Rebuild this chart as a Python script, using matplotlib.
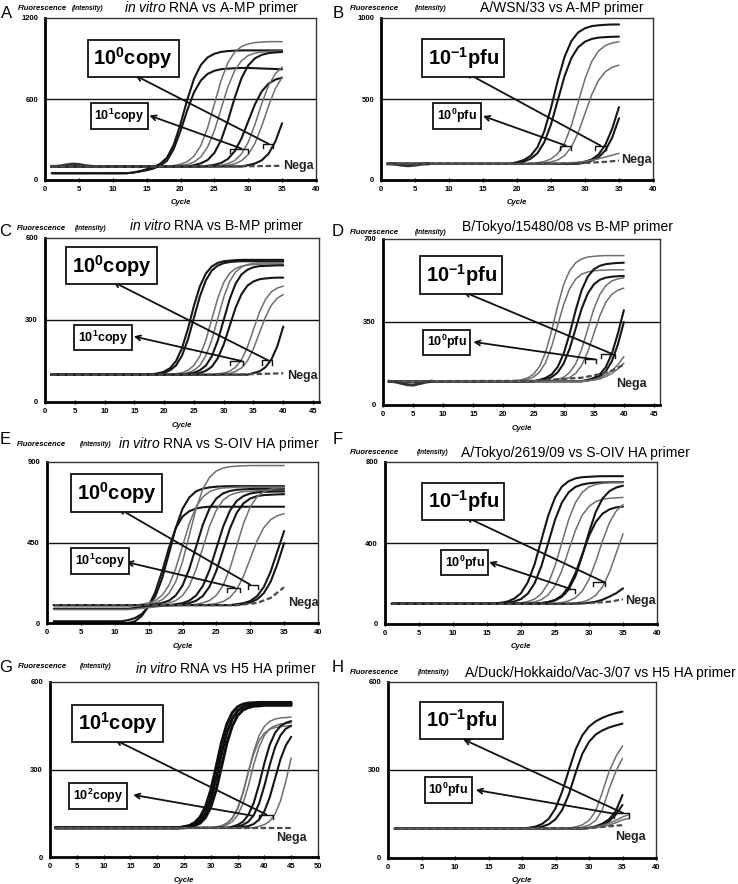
import matplotlib.pyplot as plt

plt.rcParams['font.family'] = ['Liberation Sans', 'DejaVu Sans']
plt.rcParams['mathtext.fontset'] = 'custom'
plt.rcParams['mathtext.rm'] = 'Liberation Sans'
plt.rcParams['mathtext.it'] = 'Liberation Sans:italic'
plt.rcParams['mathtext.bf'] = 'Liberation Sans:bold'

W, H = 738, 884

# ---- data: each curve is (first cycle listed, fluorescence values at consecutive cycles)
# the value before the first listed cycle is the baseline, drawn from cycle 1

a_curves = [
    (12, [50, 55, 65, 80, 95, 120, 165, 260, 415, 595, 750, 852, 908, 935, 949, 955, 958, 960, 960, 960, 960, 960, 960, 960]),
    (12, [50, 55, 63, 72, 85, 105, 143, 230, 363, 517, 650, 737, 786, 809, 821, 825, 828, 830, 830, 828, 826, 824, 822, 820]),
    (18, [100, 107, 117, 136, 177, 255, 387, 563, 738, 870, 948, 989, 1008, 1018, 1022, 1025, 1025, 1025]),
    (19, [100, 107, 115, 133, 171, 244, 365, 528, 690, 811, 884, 922, 940, 948, 952, 954, 955]),
    (21, [100, 110, 123, 148, 201, 296, 441, 609, 754, 849, 902, 927, 940, 945, 948]),
    (23, [100, 105, 112, 126, 156, 213, 308, 435, 562, 657, 714, 744, 758]),
    (25, [100, 109, 121, 144, 193, 280, 413, 567, 700, 787, 836]),
    (26, [100, 109, 120, 143, 189, 273, 401, 549, 677, 761]),
    (29, [100, 110, 122, 146, 195, 285, 421]),
]
a_tones = ['k', 'k', 'g', 'g', 'k', 'k', 'g', 'g', 'k']
a_nega_x = [1, 20, 30, 35]
a_nega_y = [100, 100, 102, 105]
a_wobble_x = [1, 2, 3, 4, 5, 6, 7, 8]
a_wobble_y = [100, 102, 110, 118, 115, 106, 100, 100]

b_curves = [
    (19, [100, 110, 123, 149, 202, 299, 445, 615, 761, 858, 911, 937, 950, 955, 958, 960, 960]),
    (19, [100, 106, 114, 131, 165, 232, 343, 493, 642, 753, 820, 854, 871, 879, 882, 884, 885]),
    (22, [100, 106, 114, 130, 163, 228, 336, 480, 624, 732, 797, 830, 846, 854]),
    (23, [100, 105, 111, 124, 151, 204, 292, 410, 528, 616, 669, 696, 709]),
    (28, [100, 106, 113, 127, 158, 218, 317, 450]),
    (29, [100, 108, 119, 140, 183, 262, 381]),
    (25, [100, 102, 104, 107, 110, 115, 122, 131, 142, 153, 165]),
]
b_tones = ['k', 'k', 'g', 'g', 'k', 'k', 'g']
b_nega_x = [1, 25, 30, 33, 35]
b_nega_y = [100, 100, 105, 112, 120]
b_wobble_x = [1, 2, 3, 4, 5, 6, 7]
b_wobble_y = [100, 98, 92, 88, 92, 98, 100]

c_curves = [
    (17, [100, 102, 105, 111, 124, 150, 197, 268, 352, 423, 470, 496, 509, 515, 517, 519, 520, 520, 520, 520, 520, 520, 520, 520]),
    (18, [100, 103, 107, 116, 134, 170, 229, 308, 386, 445, 481, 499, 508, 512, 514, 515, 515, 515, 515, 515, 515, 515, 515]),
    (21, [100, 103, 107, 116, 134, 168, 226, 303, 379, 437, 471, 489, 497, 501, 503, 504, 505, 505, 505, 505]),
    (22, [100, 103, 107, 116, 134, 169, 227, 305, 383, 441, 476, 494, 503, 507, 509, 510, 510, 510, 510]),
    (23, [100, 103, 107, 116, 133, 167, 224, 300, 376, 433, 467, 484, 493, 497, 498, 499, 500, 500]),
    (24, [100, 103, 106, 114, 129, 160, 210, 278, 345, 395, 426, 441, 449, 452, 454, 455, 455]),
    (28, [100, 103, 106, 113, 127, 155, 202, 265, 328, 375, 403, 417, 424]),
    (29, [100, 102, 105, 112, 125, 151, 195, 253, 310, 354, 380, 393]),
    (34, [100, 106, 112, 127, 155, 204, 276]),
]
c_tones = ['k', 'k', 'g', 'g', 'k', 'k', 'g', 'g', 'k']
c_nega_x = [1, 30, 35, 40]
c_nega_y = [100, 100, 102, 105]

d_curves = [
    (21, [100, 103, 106, 114, 130, 163, 222, 313, 417, 508, 567, 600, 616, 624, 627, 629, 630, 630, 630, 630]),
    (22, [100, 104, 108, 118, 139, 179, 246, 335, 424, 491, 531, 552, 561, 566, 568, 569, 570, 570, 570]),
    (25, [100, 106, 114, 129, 160, 216, 301, 400, 485, 541, 572, 587, 594, 597, 599, 600]),
    (25, [100, 104, 108, 117, 137, 175, 238, 323, 407, 470, 508, 528, 537, 541, 543, 544]),
    (27, [100, 104, 108, 117, 137, 174, 236, 320, 404, 466, 503, 523, 532, 536]),
    (28, [100, 103, 107, 116, 133, 167, 224, 300, 376, 433, 467, 484, 493]),
    (33, [100, 106, 114, 129, 160, 216, 301, 400]),
    (33, [100, 104, 109, 120, 142, 184, 255, 350]),
    (33, [100, 103, 107, 115, 127, 145, 170, 204]),
    (33, [100, 102, 105, 110, 120, 133, 152, 176]),
]
d_tones = ['g', 'g', 'k', 'k', 'g', 'g', 'k', 'k', 'g', 'g']
d_nega_x = [1, 25, 33, 36, 38, 40]
d_nega_y = [100, 102, 115, 130, 145, 170]
d_wobble_x = [1, 2, 3, 4, 5, 6, 7, 8]
d_wobble_y = [100, 98, 92, 86, 84, 90, 96, 100]

e_curves = [
    (11, [10, 16, 28, 50, 92, 150, 250, 388, 531, 638, 702, 736, 751, 758, 762, 764, 765, 765, 765, 765, 765, 765, 765, 765, 765]),
    (12, [0, 10, 40, 95, 175, 290, 420, 530, 595, 625, 640, 647, 650, 650, 650, 650, 650, 650, 650, 650, 650, 650, 650, 650]),
    (14, [100, 106, 114, 130, 165, 231, 342, 490, 638, 749, 815, 850, 866, 874, 877, 879, 880, 880, 880, 880, 880, 880]),
    (13, [100, 105, 112, 126, 155, 211, 305, 430, 555, 649, 705, 734, 748, 755, 757, 759, 760, 760, 760, 760, 760, 760, 760]),
    (15, [100, 105, 112, 125, 154, 209, 302, 425, 549, 641, 696, 725, 738, 745, 747, 749, 750, 750, 750, 750, 750]),
    (16, [100, 105, 112, 125, 153, 208, 298, 420, 542, 632, 687, 715, 728, 735, 737, 739, 740, 740, 740, 740]),
    (12, [80, 84, 88, 92, 95, 98, 100, 105, 111, 125, 153, 207, 297, 418, 538, 628, 682, 710, 724, 730, 733, 734, 735, 735]),
    (19, [100, 105, 111, 124, 151, 204, 292, 410, 528, 616, 669, 696, 709, 715, 717, 719, 720]),
    (12, [75, 78, 82, 86, 90, 94, 97, 99, 100, 100, 105, 112, 126, 155, 211, 305, 430, 555, 649, 705, 734, 748, 755, 757]),
    (23, [100, 104, 109, 120, 143, 187, 261, 360, 459, 533, 577, 600, 611]),
    (27, [100, 105, 111, 123, 150, 201, 286, 400, 514]),
    (28, [100, 107, 115, 132, 167, 230, 329, 447]),
]
e_tones = ['k', 'k', 'g', 'g', 'k', 'g', 'k', 'k', 'g', 'g', 'k', 'k']
e_nega_x = [1, 28, 31, 33, 35]
e_nega_y = [100, 100, 112, 140, 200]

f_curves = [
    (16, [100, 105, 111, 125, 152, 206, 295, 415, 535, 624, 678, 705, 719, 725, 727, 729, 730, 730, 730, 730]),
    (17, [100, 105, 111, 123, 150, 201, 286, 400, 514, 599, 650, 677, 689, 695, 698, 699, 700, 700, 700]),
    (19, [100, 105, 111, 123, 150, 201, 286, 400, 514, 599, 650, 677, 689, 695, 698, 699, 700]),
    (20, [100, 104, 109, 120, 144, 188, 263, 363, 462, 537, 581, 605, 616, 621, 623, 625]),
    (22, [100, 104, 109, 119, 140, 181, 250, 343, 435, 504, 545, 566, 576, 580]),
    (23, [100, 107, 116, 134, 170, 236, 337, 453, 554, 620, 656, 674, 683]),
    (25, [100, 106, 114, 130, 162, 220, 309, 411, 500, 558, 590]),
    (27, [100, 104, 109, 120, 142, 184, 255, 350, 445]),
    (28, [100, 102, 105, 110, 120, 135, 152, 176]),
]
f_tones = ['k', 'k', 'g', 'g', 'k', 'k', 'g', 'g', 'k']
f_nega_x = [1, 26, 30, 33, 35]
f_nega_y = [100, 100, 103, 110, 122]

g_curves = [
    (24, [100, 103, 105, 111, 124, 151, 198, 270, 355, 427, 474, 501, 514, 520, 522, 524, 525, 525, 525, 525, 525, 525]),
    (25, [100, 103, 108, 116, 135, 171, 230, 310, 390, 449, 485, 504, 512, 517, 518, 520, 520, 520, 520, 520, 520]),
    (24, [100, 104, 108, 118, 137, 172, 230, 310, 393, 456, 495, 515, 524, 528, 529, 530, 530, 530, 530, 530, 530, 530]),
    (30, [100, 103, 107, 115, 132, 164, 218, 290, 362, 416, 448, 465, 473, 477, 478, 480]),
    (31, [100, 104, 110, 121, 143, 183, 244, 316, 377, 417, 440, 450, 456, 458, 460]),
    (31, [100, 107, 116, 134, 167, 221, 292, 353, 399, 425, 438, 444, 447, 449, 450]),
    (33, [100, 104, 110, 121, 144, 185, 248, 322, 385, 426, 449, 460, 466]),
    (34, [100, 104, 110, 121, 143, 183, 244, 316, 377, 417, 440, 450]),
    (35, [100, 103, 106, 113, 128, 157, 205, 270, 335, 383, 412]),
    (38, [100, 105, 111, 123, 148, 192, 260, 340]),
]
g_tones = ['K', 'K', 'K', 'g', 'g', 'g', 'k', 'k', 'k', 'g']
g_nega_x = [1, 40, 45]
g_nega_y = [100, 100, 100]

h_curves = [
    (20, [100, 103, 107, 116, 134, 169, 227, 300, 370, 418, 448, 466, 478, 487, 494, 499]),
    (21, [100, 103, 107, 115, 132, 164, 217, 290, 355, 396, 421, 435, 445, 452, 458]),
    (26, [100, 102, 106, 113, 128, 160, 225, 295, 345, 382]),
    (27, [100, 102, 105, 112, 128, 165, 235, 295, 340]),
    (29, [100, 103, 108, 117, 132, 160, 215]),
    (29, [100, 102, 106, 113, 125, 148, 181]),
    (28, [100, 101, 103, 106, 111, 118, 128, 140, 148]),
    (28, [100, 100, 102, 104, 107, 112, 120, 130, 135]),
]
h_tones = ['k', 'k', 'g', 'g', 'k', 'k', 'g', 'g']
h_nega_x = [1, 30, 35]
h_nega_y = [100, 102, 112]

copy0 = r'10$^{\mathbf{0}}$copy'
copy1 = r'10$^{\mathbf{1}}$copy'
copy2 = r'10$^{\mathbf{2}}$copy'
pfu_m1 = r'10$^{\mathbf{-1}}$pfu'
pfu0 = r'10$^{\mathbf{0}}$pfu'

# ---- layout (pixel boxes, annotation anchors in data units)
layouts = {
    'A': dict(box=(45, 18, 316, 180), xmax=40, xtop=40, ymax=1200,
              title=r'$\mathit{in\ vitro}$ RNA vs A-MP primer', title_xy=(212, 8),
              letter_xy=(7, 14), ylab_xy=(18, 72, 9),
              big=(copy0, 13.0, 900, 13.3, 775, 33.0, 268),
              small=(copy1, 11.0, 474, 15.4, 478, 29.0, 233),
              brackets=[(27.3, 30.0, 232), (32.2, 33.7, 268)], nega_xy=(35.2, 105)),
    'B': dict(box=(381, 18, 653, 180), xmax=40, xtop=40, ymax=1000,
              title='A/WSN/33 vs A-MP primer', title_xy=(562, 8),
              letter_xy=(338, 14), ylab_xy=(350, 415, 9),
              big=(pfu_m1, 12.1, 753, 12.4, 665, 32.3, 212),
              small=(pfu0, 11.2, 395, 15.0, 395, 27.2, 212),
              brackets=[(26.3, 27.9, 212), (31.5, 33.1, 212)], nega_xy=(35.3, 123)),
    'C': dict(box=(45, 238, 319, 402), xmax=46, xtop=45, ymax=600,
              title=r'$\mathit{in\ vitro}$ RNA vs B-MP primer', title_xy=(217, 226),
              letter_xy=(5, 232), ylab_xy=(17, 75, 229),
              big=(copy0, 11.2, 498, 11.4, 440, 37.5, 152),
              small=(copy1, 9.8, 236, 14.9, 240, 33.0, 150),
              brackets=[(31.1, 33.2, 150), (36.4, 38.1, 152)], nega_xy=(40.6, 95)),
    'D': dict(box=(383, 239, 660, 405), xmax=46, xtop=45, ymax=700,
              title='B/Tokyo/15480/08 vs B-MP primer', title_xy=(568, 227),
              letter_xy=(338, 232), ylab_xy=(350, 415, 232),
              big=(pfu_m1, 13.0, 548, 13.3, 478, 37.9, 217),
              small=(pfu0, 10.6, 264, 15.0, 266, 35.2, 192),
              brackets=[(36.2, 38.5, 217), (33.5, 35.3, 195)], nega_xy=(38.7, 88)),
    'E': dict(box=(47, 462, 318, 623), xmax=40, xtop=40, ymax=900,
              title=r'$\mathit{in\ vitro}$ RNA vs S-OIV HA primer', title_xy=(219, 444),
              letter_xy=(5, 440), ylab_xy=(17, 80, 444),
              big=(copy0, 10.3, 727, 10.5, 642, 30.0, 214),
              small=(copy1, 7.8, 347, 11.7, 341, 27.7, 198),
              brackets=[(26.5, 28.5, 198), (29.7, 31.2, 214)], nega_xy=(35.6, 112)),
    'F': dict(box=(385, 462, 657, 624), xmax=40, xtop=40, ymax=800,
              title='A/Tokyo/2619/09 vs S-OIV HA primer', title_xy=(575, 453),
              letter_xy=(338, 440), ylab_xy=(350, 417, 453),
              big=(pfu_m1, 11.5, 605, 11.8, 530, 32.4, 204),
              small=(pfu0, 11.7, 304, 15.3, 306, 27.2, 174),
              brackets=[(26.4, 28.0, 174), (30.6, 32.4, 206)], nega_xy=(35.3, 113)),
    'G': dict(box=(50, 682, 318, 857), xmax=50, xtop=50, ymax=600,
              title=r'$\mathit{in\ vitro}$ RNA vs H5 HA primer', title_xy=(226, 669),
              letter_xy=(6, 667), ylab_xy=(18, 80, 666),
              big=(copy1, 12.6, 459, 12.1, 402, 40.4, 145),
              small=(copy2, 8.9, 209, 15.5, 213, 37.9, 141),
              brackets=[(38.9, 41.6, 145)], nega_xy=(42.2, 65)),
    'H': dict(box=(388, 682, 656, 858), xmax=40, xtop=40, ymax=600,
              title='A/Duck/Hokkaido/Vac-3/07 vs H5 HA primer', title_xy=(600, 673),
              letter_xy=(338, 667), ylab_xy=(350, 418, 672),
              big=(pfu_m1, 11.0, 470, 11.2, 405, 35.1, 153),
              small=(pfu0, 9.0, 233, 13.1, 232, 34.0, 150),
              brackets=[(33.8, 36.0, 153)], nega_xy=(33.9, 72)),
}

TONE = {'k': ('#161616', 1.5), 'K': ('#0d0d0d', 2.1), 'g': ('#6f6f6f', 1.1)}


def fx(px):
    return px / W


def fy(py):
    return 1 - py / H


def draw_panel(fig, key, curves, tones, nega_x, nega_y, wobble=None):
    lay = layouts[key]
    x0, y0, x1, y1 = lay['box']
    ax = fig.add_axes([fx(x0), fy(y1), (x1 - x0) / W, (y1 - y0) / H])
    ymax = lay['ymax']

    ax.axhline(ymax / 2, color='#111111', lw=1.0, zorder=1)
    for (start, vals), tone in zip(curves, tones):
        col, lw = TONE[tone]
        xs = [1] + list(range(start, start + len(vals)))
        ys = [vals[0]] + vals
        ax.plot(xs, ys, color=col, lw=lw, zorder=2, solid_capstyle='round')
    if wobble is not None:
        ax.plot(wobble[0], wobble[1], color='#333333', lw=2.2, zorder=2)
    ax.plot(nega_x, nega_y, color='#4a4a4a', lw=1.6, ls=(0, (2.5, 1.2)), zorder=3)

    # brackets and arrows
    t = ymax * 0.025
    for bx0, bx1, by in lay['brackets']:
        ax.plot([bx0, bx0, bx1, bx1], [by - t, by, by, by - t], color='#111111', lw=1.0, zorder=4)
    for text, cx, cy, tx, ty, sx, sy, size, pad in [lay['big'] + (14.5, 0.28), lay['small'] + (9, 0.3)]:
        ax.annotate('', xy=(tx, ty), xytext=(sx, sy),
                    arrowprops=dict(arrowstyle='->', lw=1.3, color='#111111',
                                    shrinkA=0, shrinkB=0, mutation_scale=9), zorder=4)
        ax.text(cx, cy, text, fontsize=size, fontweight='bold', ha='center', va='center',
                zorder=6, bbox=dict(boxstyle=f'square,pad={pad}', fc='white', ec='#111111', lw=1.3))
    nx, ny = lay['nega_xy']
    ax.text(nx, ny, 'Nega', fontsize=9, fontweight='bold', color='#222222', ha='left', va='center',
            zorder=6, clip_on=False)

    ax.set_xlim(0, lay['xmax'])
    ax.set_ylim(0, ymax)
    ax.set_xticks(list(range(0, lay['xtop'] + 1, 5)))
    ax.set_yticks([0, ymax // 2, ymax])
    ax.tick_params(axis='x', direction='inout', length=3, width=1, pad=3, labelsize=5.5)
    ax.tick_params(axis='y', length=0, pad=5, labelsize=5.5)
    for lab in ax.get_xticklabels() + ax.get_yticklabels():
        lab.set_fontweight('bold')
    for side in ('left', 'bottom'):
        ax.spines[side].set_linewidth(2.0)
        ax.spines[side].set_color('black')
    for side in ('top', 'right'):
        ax.spines[side].set_linewidth(1.0)
        ax.spines[side].set_color('#333333')

    # figure-level texts
    lx, ly = lay['letter_xy']
    fig.text(fx(lx), fy(ly), key, fontsize=12, ha='center', va='center')
    tx, ty = lay['title_xy']
    fig.text(fx(tx), fy(ty), lay['title'], fontsize=10, ha='center', va='center')
    fl, il, yy = lay['ylab_xy']
    fig.text(fx(fl), fy(yy), 'Fluorescence', fontsize=5.5, fontweight='bold', style='italic',
             ha='left', va='center')
    fig.text(fx(il), fy(yy), '(intensity)', fontsize=4.8, fontweight='bold', style='italic',
             ha='left', va='center')
    fig.text(fx((x0 + x1) / 2), fy(y1 + 23), 'Cycle', fontsize=5.5, fontweight='bold',
             style='italic', ha='center', va='center')
    return ax


fig = plt.figure(figsize=(W / 100, H / 100), dpi=100)
fig.patch.set_facecolor('white')

draw_panel(fig, 'A', a_curves, a_tones, a_nega_x, a_nega_y, (a_wobble_x, a_wobble_y))
draw_panel(fig, 'B', b_curves, b_tones, b_nega_x, b_nega_y, (b_wobble_x, b_wobble_y))
draw_panel(fig, 'C', c_curves, c_tones, c_nega_x, c_nega_y)
draw_panel(fig, 'D', d_curves, d_tones, d_nega_x, d_nega_y, (d_wobble_x, d_wobble_y))
draw_panel(fig, 'E', e_curves, e_tones, e_nega_x, e_nega_y)
draw_panel(fig, 'F', f_curves, f_tones, f_nega_x, f_nega_y)
draw_panel(fig, 'G', g_curves, g_tones, g_nega_x, g_nega_y)
draw_panel(fig, 'H', h_curves, h_tones, h_nega_x, h_nega_y)

fig.savefig('out.png', dpi=100)
